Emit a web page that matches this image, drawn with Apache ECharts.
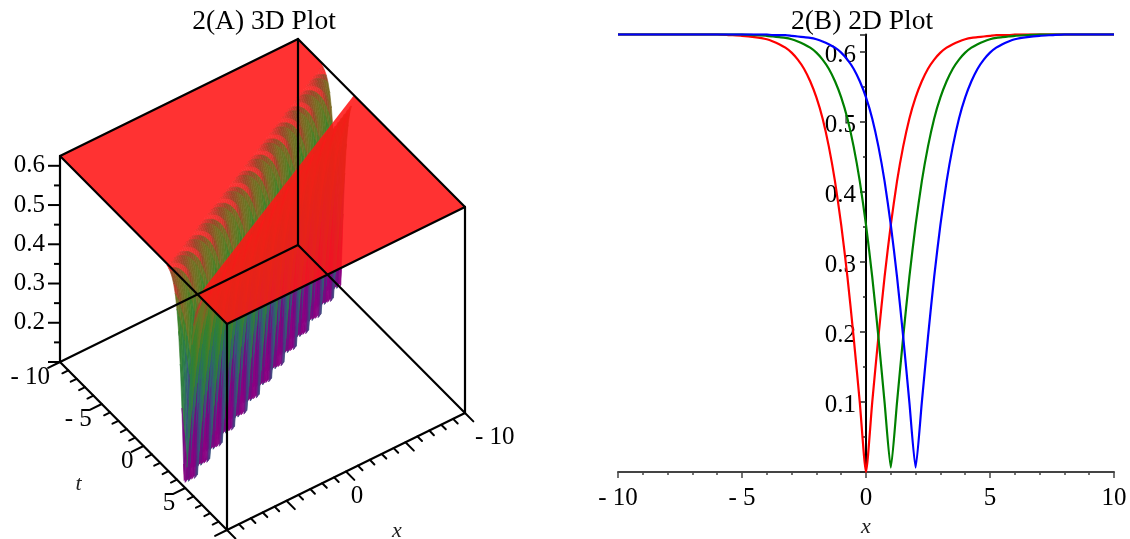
<!DOCTYPE html>
<html>
<head>
<meta charset="utf-8">
<style>html,body{margin:0;padding:0;background:#fff}#c{width:1130px;height:539px;filter:blur(0.5px)}</style>
<script src="https://cdn.jsdelivr.net/npm/echarts@6/dist/echarts.min.js"></script>
</head>
<body>
<div id="c"></div>
<script>
// ---------- 2(B) 2D plot data ----------
const xs2d = [-10,-9,-8,-7,-6,-5.5,-5,-4.5,-4,-3.75,-3.5,-3.25,-3,-2.75,-2.5,-2.25,-2,-1.75,-1.5,-1.25,-1,-0.75,-0.5,-0.25,0,0.25,0.5,0.75,1,1.25,1.5,1.75,2,2.25,2.5,2.75,3,3.25,3.5,3.75,4,4.25,4.5,4.75,5,5.25,5.5,5.75,6,6.5,7,7.5,8,9,10];
const redCurve = [.625,.625,.625,.625,.625,.624,.623,.621,.618,.615,.611,.606,.599,.589,.576,.558,.535,.505,.465,.415,.353,.279,.193,.099,0,.099,.193,.279,.353,.415,.465,.505,.535,.558,.576,.589,.599,.606,.611,.615,.618,.620,.621,.622,.623,.624,.624,.624,.625,.625,.625,.625,.625,.625,.625];
const greenCurve = [.625,.625,.625,.625,.625,.625,.625,.624,.623,.622,.621,.620,.618,.615,.611,.606,.599,.589,.576,.558,.535,.505,.465,.415,.353,.279,.193,.099,.006,.099,.193,.279,.353,.415,.465,.505,.535,.558,.576,.589,.599,.606,.611,.615,.618,.620,.621,.622,.623,.624,.625,.625,.625,.625,.625];
const blueCurve = [.625,.625,.625,.625,.625,.625,.625,.625,.625,.624,.624,.624,.623,.622,.621,.620,.618,.615,.611,.606,.599,.589,.576,.558,.535,.505,.465,.415,.353,.279,.193,.099,.006,.099,.193,.279,.353,.415,.465,.505,.535,.558,.576,.589,.599,.606,.611,.615,.618,.621,.623,.624,.625,.625,.625];

// ---------- 2(A) 3D surface data ----------
const tRows = [-10,-9.8,-9.6,-9.4,-9.2,-9,-8.8,-8.6,-8.4,-8.2,-8,-7.8,-7.6,-7.4,-7.2,-7,-6.8,-6.6,-6.4,-6.2,-6,-5.8,-5.6,-5.4,-5.2,-5,-4.8,-4.6,-4.4,-4.2,-4,-3.8,-3.6,-3.4,-3.2,-3,-2.8,-2.6,-2.4,-2.2,-2,-1.8,-1.6,-1.4,-1.2,-1,-0.8,-0.6,-0.4,-0.2,0,0.2,0.4,0.6,0.8,1,1.2,1.4,1.6,1.8,2,2.2,2.4,2.6,2.8,3,3.2,3.4,3.6,3.8,4,4.2,4.4,4.6,4.8,5,5.2,5.4,5.6,5.8,6,6.2,6.4,6.6,6.8,7,7.2,7.4,7.6,7.8,8,8.2,8.4,8.6,8.8,9,9.2,9.4,9.6,9.8,10];
// x of the valley floor on each t row
const valleyX = [-20,-19.6,-19.2,-18.8,-18.4,-18,-17.6,-17.2,-16.8,-16.4,-16,-15.6,-15.2,-14.8,-14.4,-14,-13.6,-13.2,-12.8,-12.4,-12,-11.6,-11.2,-10.8,-10.4,-10,-9.6,-9.2,-8.8,-8.4,-8,-7.6,-7.2,-6.8,-6.4,-6,-5.6,-5.2,-4.8,-4.4,-4,-3.6,-3.2,-2.8,-2.4,-2,-1.6,-1.2,-0.8,-0.4,0,0.4,0.8,1.2,1.6,2,2.4,2.8,3.2,3.6,4,4.4,4.8,5.2,5.6,6,6.4,6.8,7.2,7.6,8,8.4,8.8,9.2,9.6,10,10.4,10.8,11.2,11.6,12,12.4,12.8,13.2,13.6,14,14.4,14.8,15.2,15.6,16,16.4,16.8,17.2,17.6,18,18.4,18.8,19.2,19.6,20];
// surface height against distance from the valley line, in steps of 0.2
const profile = [0,.080,.157,.229,.295,.353,.403,.446,.482,.511,.535,.554,.570,.582,.591,.599,.605,.610,.613,.616,.618,.620,.621,.622,.623,.623,.624,.624,.624,.625,.625];
const profileStep = 0.2;
const plateauReach = 4.2;    // left sheet starts this far from the valley
const rightSheetEdge = 3.4;  // right sheet ends this far from the valley
const xRange = [-10, 10], tRange = [-10, 10], zRange = [0.1, 0.625];
const zTicks3d = [.1,.15,.2,.25,.3,.35,.4,.45,.5,.55,.6];
const zLabels3d = [.2,.3,.4,.5,.6];
const tTicks3d = [-10,-9,-8,-7,-6,-5,-4,-3,-2,-1,0,1,2,3,4,5,6,7,8,9,10];
const tLabels3d = [-10,-5,0,5];
const xTicks3d = [-10,-9,-8,-7,-6,-5,-4,-3,-2,-1,0,1,2,3,4,5,6,7,8,9,10];
const xLabels3d = [-10,0];

// ---------- styles ----------
const zStops = [.1,.18,.25,.35,.44,.5,.56,.6,.612,.621,.625];
const zColors = [[140,0,130],[100,20,130],[50,90,125],[40,125,70],[60,130,40],[100,120,35],[125,105,35],[155,70,40],[205,55,45],[255,50,50],[255,50,50]];
const bandShift = [.03,-.015,-.04,-.01];     // colour stripes, one band per t row
const bandFloor = [.100,.108,.116,.124];     // saw-tooth lower edge of the stripes
const SERIF = '"Liberation Serif","Times New Roman",serif';
const signed = v => v < 0 ? '- ' + Math.abs(v) : String(v);

// parallel projection of the box (x, t, z) onto the plane of the left panel
function project(x, t, z) {
  return [227 + (x - 10) * -11.9 + (t - 10) * 8.35,
          530 + (x - 10) * 5.85 + (t - 10) * 8.4 - (z - zRange[0]) * 392.4];
}
function colorOf(z) {
  let k = 0;
  while (k < zStops.length - 2 && z > zStops[k + 1]) k++;
  const f = Math.max(0, Math.min(1, (z - zStops[k]) / (zStops[k + 1] - zStops[k])));
  const c = zColors[k].map((a, n) => Math.round(a + (zColors[k + 1][n] - a) * f));
  return 'rgb(' + c.join(',') + ')';
}
const nCols = Math.round((xRange[1] - xRange[0]) / profileStep);
const colX = i => xRange[0] + i * profileStep;
function heightAt(i, j) {
  const d = Math.round(Math.abs(colX(i) - valleyX[j]) / profileStep);
  return d < profile.length ? profile[d] : profile[profile.length - 1];
}
// wall cells, ordered far to near
const cells = [];
for (let j = 0; j < tRows.length - 1; j++) {
  for (let i = 0; i < nCols; i++) {
    const mid = (colX(i) + colX(i + 1)) / 2, d = Math.abs(mid - valleyX[j]);
    const onRight = mid < valleyX[j];
    if (d > (onRight ? rightSheetEdge - 0.8 : plateauReach + 0.4)) continue;
    const q = [[colX(i), tRows[j], heightAt(i, j)], [colX(i + 1), tRows[j], heightAt(i + 1, j)],
               [colX(i + 1), tRows[j + 1], heightAt(i + 1, j + 1)], [colX(i), tRows[j + 1], heightAt(i, j + 1)]];
    const b = j % bandShift.length;
    cells.push({q, shift: bandShift[b], floor: bandFloor[b]});
  }
}
function clipBottom(q, m) {
  const out = [];
  for (let a = 0; a < q.length; a++) {
    const p = q[a], n = q[(a + 1) % q.length];
    if (p[2] >= m) out.push(p);
    if ((p[2] >= m) !== (n[2] >= m)) {
      const f = (m - p[2]) / (n[2] - p[2]);
      out.push([p[0] + (n[0] - p[0]) * f, p[1] + (n[1] - p[1]) * f, m]);
    }
  }
  return out;
}
// the two flat sheets
const clampX = v => Math.max(xRange[0], Math.min(xRange[1], v));
const leftSheet = [[xRange[1], tRange[0], zRange[1]]];
for (let j = 0; j < tRows.length - 1; j++) {
  const a = clampX(valleyX[j] + plateauReach);
  leftSheet.push([a, tRows[j], zRange[1]], [a, tRows[j + 1], zRange[1]]);
}
// right sheet has a straight edge along the valley, from the x = -10 side to the x = 10 side
const edgeEnds = [[-10, -3.3], [10, 6.6]];
const rightSheet = [[xRange[0], tRange[1], zRange[1]], [xRange[0], edgeEnds[0][1], zRange[1]],
                    [xRange[1], edgeEnds[1][1], zRange[1]], [xRange[1], tRange[1], zRange[1]]];
const sheets = [{pts:leftSheet, fill:'rgb(255,50,50)'}, {pts:rightSheet, fill:'rgba(255,22,22,.88)'}];

// box edges and ticks, as [from, to, width]
const [x0, x1] = xRange, [t0, t1] = tRange, [z0, z1] = zRange;
const segs = [];
const seg = (a, b, w) => segs.push([a, b, w]);
[z0, z1].forEach(z => {
  seg([x1,t0,z],[x0,t0,z],2.2); seg([x0,t0,z],[x0,t1,z],2.2);
  seg([x0,t1,z],[x1,t1,z],2.2); seg([x1,t1,z],[x1,t0,z],2.2);
});
[[x0,t0],[x0,t1],[x1,t0],[x1,t1]].forEach(c => seg([c[0],c[1],z0],[c[0],c[1],z1],2.2));
tTicks3d.forEach(t => { const L = t % 5 === 0 ? 1 : 0.5; seg([x1,t,z0],[x1 + L,t,z0],2); });
xTicks3d.forEach(x => { const L = x % 5 === 0 ? 1 : 0.55; seg([x,t1,z0],[x,t1 + L,z0],2); });

const texts = [];
zLabels3d.forEach(z => { const p = project(x1,t0,z); texts.push({p, dx:-15, dy:0, s:String(z), align:'right'}); });
tLabels3d.forEach(t => { const p = project(x1,t,z0); texts.push({p, dx:-10, dy:15, s:signed(t), align:'right'}); });
xLabels3d.forEach(x => { const p = project(x,t1,z0); texts.push({p, dx:x<0?10:11, dy:x<0?24:25, s:signed(x), align:x<0?'left':'center'}); });

const zTickSegs = zTicks3d.map(z => { const major = zLabels3d.includes(z) || z === z0; return [z, major ? 12 : 6]; });

const chart = echarts.init(document.getElementById('c'), null, {renderer:'canvas'});
const pt = (api, v) => api.coord(project(v[0], v[1], v[2]));
const idx = arr => arr.map((_, i) => [0, 0, i]);
const panel = {xAxisIndex:1, yAxisIndex:1, coordinateSystem:'cartesian2d', clip:false, silent:true, animation:false, progressive:0, encode:{x:0,y:1}};

chart.setOption({
  animation:false,
  backgroundColor:'#fff',
  title:[
    {text:'2(A) 3D Plot', left:259, top:3, textAlign:'center', textStyle:{fontFamily:SERIF, fontSize:27.5, fontWeight:'normal', color:'#000'}},
    {text:'2(B) 2D Plot', left:857, top:3, textAlign:'center', textStyle:{fontFamily:SERIF, fontSize:27.5, fontWeight:'normal', color:'#000'}}
  ],
  grid:[
    {left:618, width:496, top:34.4, height:437.5, outerBoundsMode:'none'},
    {left:0, top:0, width:560, height:539, outerBoundsMode:'none'}
  ],
  xAxis:[
    {type:'value', gridIndex:0, min:-10, max:10, interval:5, name:'x', nameLocation:'middle', nameGap:44,
     nameTextStyle:{fontFamily:SERIF, fontStyle:'italic', fontSize:22, color:'#222'},
     axisLine:{onZero:false, lineStyle:{color:'#444', width:2}},
     axisTick:{length:6, lineStyle:{color:'#444', width:1.5}},
     minorTick:{show:true, splitNumber:5, length:3, lineStyle:{color:'#444', width:1.5}},
     splitLine:{show:false},
     axisLabel:{fontFamily:SERIF, fontSize:25, color:'#000', margin:14, formatter:signed, hideOverlap:false, showMinLabel:true, showMaxLabel:true}},
    {type:'value', gridIndex:1, min:0, max:560, show:false}
  ],
  yAxis:[
    {type:'value', gridIndex:0, min:0, max:.625, interval:.1, position:'left', offset:-248,
     axisLine:{show:true, onZero:false, lineStyle:{color:'#000', width:2}},
     axisTick:{show:true, length:6, lineStyle:{color:'#222', width:1.5}},
     minorTick:{show:true, splitNumber:2, length:3, lineStyle:{color:'#222', width:1.5}},
     splitLine:{show:false},
     axisLabel:{fontFamily:SERIF, fontSize:25, color:'#000', margin:10, verticalAlign:'top', lineHeight:8, showMinLabel:false, showMaxLabel:false}},
    {type:'value', gridIndex:1, min:0, max:539, inverse:true, show:false}
  ],
  series:[
    ...[[redCurve,'#ff0000'],[greenCurve,'#008000'],[blueCurve,'#0000ff']].map(([vals,color]) => ({
      type:'line', xAxisIndex:0, yAxisIndex:0, data:xs2d.map((x,i) => [x, vals[i]]), showSymbol:false, symbol:'none', smooth:0.2,
      lineStyle:{color, width:2.2}, z:5, silent:true, animation:false
    })),
    Object.assign({}, panel, {type:'custom', z:2, data:idx(cells), renderItem(params, api) {
      const cell = cells[params.dataIndex], q = clipBottom(cell.q, cell.floor);
      if (q.length < 3) return null;
      const z = q.reduce((s, v) => s + v[2], 0) / q.length;
      const gain = Math.min(1, (0.622 - z) * 25) * (1 + 3 * Math.max(0, 0.6 - z));
      const c = colorOf(z + cell.shift * Math.max(0, gain));
      return {type:'polygon', shape:{points:q.map(v => pt(api, v))}, style:{fill:c, stroke:c, lineWidth:0.6}};
    }}),
    Object.assign({}, panel, {type:'custom', z:3, data:idx(sheets), renderItem(params, api) {
      const s = sheets[params.dataIndex];
      return {type:'polygon', shape:{points:s.pts.map(v => pt(api, v))}, style:{fill:s.fill}};
    }}),
    Object.assign({}, panel, {type:'custom', z:4, data:idx(segs), renderItem(params, api) {
      const s = segs[params.dataIndex], a = pt(api, s[0]), b = pt(api, s[1]);
      return {type:'line', shape:{x1:a[0],y1:a[1],x2:b[0],y2:b[1]}, style:{stroke:'#000', lineWidth:s[2], lineCap:'round'}};
    }}),
    Object.assign({}, panel, {type:'custom', z:4, data:idx(zTickSegs), renderItem(params, api) {
      const s = zTickSegs[params.dataIndex], a = pt(api, [x1,t0,s[0]]);
      return {type:'line', shape:{x1:a[0],y1:a[1],x2:a[0]-s[1],y2:a[1]}, style:{stroke:'#000', lineWidth:2}};
    }}),
    Object.assign({}, panel, {type:'custom', z:5, data:idx(texts), renderItem(params, api) {
      const s = texts[params.dataIndex], a = api.coord(s.p);
      return {type:'text', style:{x:a[0]+s.dx, y:a[1]+s.dy, text:s.s, fill:'#000', align:s.align, verticalAlign:'middle', font:'25px '+SERIF}};
    }}),
    Object.assign({}, panel, {type:'custom', z:5, data:[[0,0,0],[0,0,1]], renderItem(params, api) {
      const m = params.dataIndex === 0 ? {p:project(x1,t0+10,z0), dx:-65, dy:38, s:'t'} : {p:project(0,t1,z0), dx:51, dy:60, s:'x'};
      const a = api.coord(m.p);
      return {type:'text', style:{x:a[0]+m.dx, y:a[1]+m.dy, text:m.s, fill:'#222', align:'center', verticalAlign:'middle', font:'italic 22px '+SERIF}};
    }})
  ]
});
</script>
</body>
</html>
